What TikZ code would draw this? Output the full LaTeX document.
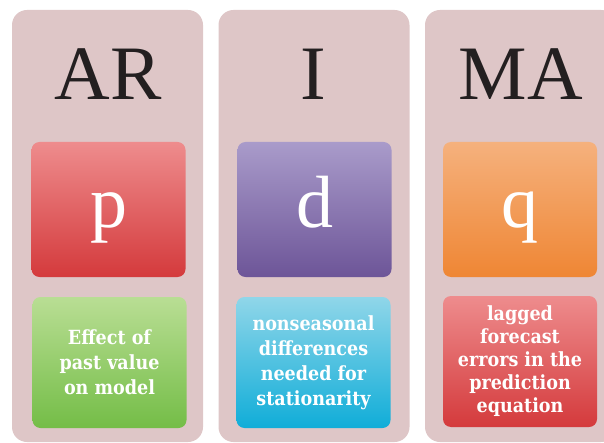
\documentclass[tikz,border=0pt]{standalone}
\usepackage{fontspec}
\setmainfont{Liberation Serif}
\newfontfamily\notefont{DejaVu Serif Condensed}
\definecolor{cardPink}{HTML}{DEC6C7}
\definecolor{titleInk}{HTML}{231F20}
\definecolor{redTop}{HTML}{EE8C8D}
\definecolor{redBottom}{HTML}{D43A3C}
\definecolor{greenTop}{HTML}{B9DE94}
\definecolor{greenBottom}{HTML}{74BD47}
\definecolor{purpleTop}{HTML}{A99BCA}
\definecolor{purpleBottom}{HTML}{6D5598}
\definecolor{blueTop}{HTML}{90D6E9}
\definecolor{blueBottom}{HTML}{10ADD8}
\definecolor{orangeTop}{HTML}{F5B17D}
\definecolor{orangeBottom}{HTML}{EF8634}
\usepackage{tikz}
\usetikzlibrary{positioning}

\begin{document}
\begin{tikzpicture}[
    x=1pt, y=-1pt,
    column/.style={rectangle, rounded corners=15pt, fill=cardPink,
                   minimum width=191pt, minimum height=432pt, inner sep=0pt},
    title/.style={font=\fontsize{77}{80}\selectfont, text=titleInk, inner sep=0pt},
    letterbox/.style={rectangle, rounded corners=8pt, minimum width=154pt,
                      minimum height=135pt, text=white, inner sep=0pt,
                      text height=37pt, text depth=0pt,
                      font=\fontsize{74}{80}\selectfont},
    notebox/.style={rectangle, rounded corners=8pt, minimum width=154pt,
                    minimum height=131pt, text=white, align=center, inner sep=0pt,
                    font=\notefont\fontsize{19.5}{25}\selectfont\bfseries}
  ]
    \useasboundingbox (0,0) rectangle (604,443);
    \clip (0,0) rectangle (604,443);

    % three columns
    \node[column] (arcol) at (107.5, 226) {};
    \node[column] (icol) at (314, 226) {};
    \node[column] (macol) at (520.5, 226) {};

    \node[title] (ar) at (108, 74) {AR};
    \node[title] (i) at (313, 74) {I};
    \node[title] (ma) at (521, 74) {MA};

    \node[letterbox, top color=redTop, bottom color=redBottom] (p) at (108.5, 209.5) {p};
    \node[letterbox, top color=purpleTop, bottom color=purpleBottom] (d) at (314.5, 209.5) {d};
    \node[letterbox, top color=orangeTop, bottom color=orangeBottom] (q) at (520, 209.5) {q};

    \node[notebox, top color=greenTop, bottom color=greenBottom] (pnote) at (109.5, 362.5) {
      Effect of\\past value\\on model};
    \node[notebox, top color=blueTop, bottom color=blueBottom] (dnote) at (313.5, 362.5) {
      nonseasonal\\differences\\needed for\\stationarity};
    \node[notebox, top color=redTop, bottom color=redBottom,
          font=\notefont\fontsize{19.5}{23}\selectfont\bfseries] (qnote) at (520, 361.5) {
      lagged\\forecast\\errors in the\\prediction\\equation};
  \end{tikzpicture}
\end{document}
